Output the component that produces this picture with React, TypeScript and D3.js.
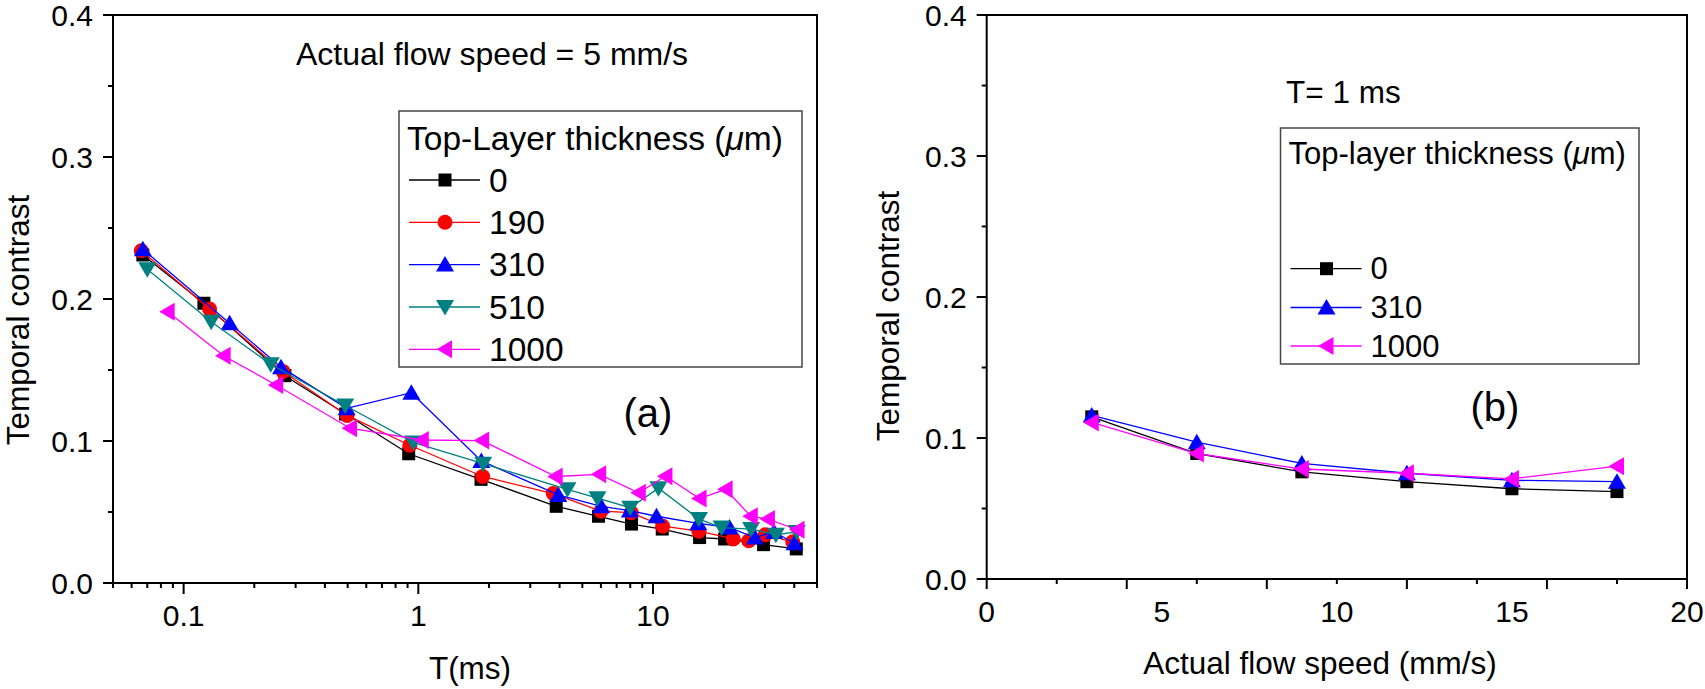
import * as d3 from "d3";

// panel (a): temporal contrast vs exposure time, one array pair per top-layer thickness
const thicknessA = ["0", "190", "310", "510", "1000"];

const t0 = [0.067, 0.122, 0.27, 0.49, 0.91, 1.85, 3.87, 5.86, 8.1, 10.95, 15.8, 20.2, 29.6, 40.8];
const c0 = [0.231, 0.197, 0.146, 0.119, 0.091, 0.073, 0.054, 0.047, 0.0415, 0.038, 0.032, 0.031, 0.027, 0.024];

const t190 = [0.066, 0.129, 0.265, 0.497, 0.92, 1.88, 3.76, 6.0, 8.08, 11.0, 15.7, 22.0, 25.6, 30.1, 39.4];
const c190 = [0.234, 0.193, 0.149, 0.118, 0.097, 0.075, 0.063, 0.0506, 0.0495, 0.04, 0.0365, 0.031, 0.0298, 0.034, 0.029];

const t310 = [0.067, 0.157, 0.26, 0.495, 0.934, 1.855, 3.95, 6.02, 7.97, 10.35, 15.6, 21.2, 27.2, 32.8, 40.1];
const c310 = [0.235, 0.183, 0.152, 0.123, 0.134, 0.086, 0.062, 0.054, 0.051, 0.047, 0.042, 0.039, 0.032, 0.036, 0.028];

const t510 = [0.07, 0.131, 0.235, 0.488, 0.95, 1.89, 4.32, 5.8, 8.0, 10.55, 15.7, 19.6, 26.2, 33.4, 41];
const c510 = [0.221, 0.184, 0.154, 0.125, 0.099, 0.084, 0.066, 0.0597, 0.053, 0.0668, 0.045, 0.039, 0.038, 0.034, 0.036];

const t1000 = [0.0855, 0.148, 0.248, 0.512, 1.035, 1.87, 3.85, 5.9, 8.7, 11.3, 15.8, 20.4, 26.1, 30.9, 41.3];
const c1000 = [0.191, 0.16, 0.1394, 0.109, 0.1007, 0.1003, 0.075, 0.0765, 0.0635, 0.0752, 0.0595, 0.066, 0.047, 0.045, 0.0375];

// panel (b): temporal contrast vs flow speed at T = 1 ms
const thicknessB = ["0", "310", "1000"];
const speeds = [3, 6, 9, 12, 15, 18];
const b0 = [0.115, 0.089, 0.076, 0.069, 0.064, 0.062];
const b310 = [0.116, 0.097, 0.082, 0.075, 0.07, 0.069];
const b1000 = [0.111, 0.089, 0.078, 0.075, 0.071, 0.08];

const yTickLabels = ["0.0", "0.1", "0.2", "0.3", "0.4"];

const font = "'Liberation Sans', Arial, sans-serif";

const styleOf = {
  "0": { color: "#000000", shape: "square" },
  "190": { color: "#ff0000", shape: "circle" },
  "310": { color: "#0000ff", shape: "up" },
  "510": { color: "#008080", shape: "down" },
  "1000": { color: "#ff00ff", shape: "left" },
};

const Marker = ({ shape, x, y, color }) => {
  if (shape === "circle") return <circle cx={x} cy={y} r={7.5} fill={color} />;
  let d = "";
  if (shape === "square") d = "M-6.5,-6.5h13v13h-13Z";
  if (shape === "up") d = "M0,-8.5L9,7L-9,7Z";
  if (shape === "down") d = "M0,8.5L9,-7L-9,-7Z";
  if (shape === "left") d = "M-8.5,0L7,-9L7,9Z";
  return <path d={d} transform={`translate(${x},${y})`} fill={color} />;
};

const Series = ({ xs, ys, name, x, y }) => {
  const st = styleOf[name];
  const pts = xs.map((v, i) => [x(v), y(ys[i])]);
  const line = d3.line();
  return (
    <g>
      <path d={line(pts)} fill="none" stroke={st.color} strokeWidth={1.3} />
      {pts.map((p, i) => (
        <Marker key={i} shape={st.shape} x={p[0]} y={p[1]} color={st.color} />
      ))}
    </g>
  );
};

const Legend = ({ x, y, w, h, titleY, rowY, names, title, size }) => (
  <g fontFamily={font}>
    <rect x={x} y={y} width={w} height={h} fill="white" stroke="#444" strokeWidth={1.5} />
    <text x={x + 8} y={titleY} fontSize={size} dominantBaseline="central">
      {title}
      <tspan fontStyle="italic">μ</tspan>m)
    </text>
    {names.map((n, i) => {
      const st = styleOf[n];
      const ry = rowY[i];
      return (
        <g key={n}>
          <line x1={x + 10} x2={x + 81} y1={ry} y2={ry} stroke={st.color} strokeWidth={1.3} />
          <Marker shape={st.shape} x={x + 46} y={ry} color={st.color} />
          <text x={x + 90} y={ry} fontSize={size} dominantBaseline="central">
            {n}
          </text>
        </g>
      );
    })}
  </g>
);

const YAxis = ({ y, left }) => {
  const minor = y.ticks(8);
  return (
    <g>
      {minor.map((v, i) => (
        <line key={i} x1={left} x2={left - (i % 2 === 0 ? 10 : 5)} y1={y(v)} y2={y(v)} stroke="black" strokeWidth={2} />
      ))}
      {y.ticks(4).map((v, i) => (
        <text key={i} x={left - 20} y={y(v) + 11} textAnchor="end" fontSize={30} fontFamily={font}>
          {yTickLabels[i]}
        </text>
      ))}
    </g>
  );
};

const Frame = ({ l, r, t, b }) => (
  <rect x={l} y={t} width={r - l} height={b - t} fill="none" stroke="black" strokeWidth={2} />
);

export default function App() {
  // panel (a)
  const aL = 113, aR = 817, aT = 15, aB = 583;
  const xA = d3.scaleLog().domain([0.05, 50]).range([aL, aR]);
  const yA = d3.scaleLinear().domain([0, 0.4]).range([aB, aT]);
  const xATicks = xA.ticks();
  const isMajor = (v) => Math.abs(Math.log10(v) - Math.round(Math.log10(v))) < 1e-6;

  // panel (b)
  const bL = 986.7, bR = 1687, bT = 15, bB = 579;
  const xB = d3.scaleLinear().domain([0, 20]).range([bL, bR]);
  const yB = d3.scaleLinear().domain([0, 0.4]).range([bB, bT]);

  const seriesA = [
    [t0, c0],
    [t190, c190],
    [t310, c310],
    [t510, c510],
    [t1000, c1000],
  ];
  const seriesB = [b0, b310, b1000];

  return (
    <div>
      <style>{`body{margin:0}`}</style>
      <svg width={1705} height={689} style={{ display: "block", background: "white" }}>
        {/* panel (a) */}
        <Frame l={aL} r={aR} t={aT} b={aB} />
        {xATicks.map((v, i) => (
          <line key={i} x1={xA(v)} x2={xA(v)} y1={aB} y2={aB + (isMajor(v) ? 11 : 5)} stroke="black" strokeWidth={2} />
        ))}
        {xATicks.filter(isMajor).map((v) => (
          <text key={v} x={xA(v)} y={aB + 43} textAnchor="middle" fontSize={30} fontFamily={font}>
            {d3.format("~g")(v)}
          </text>
        ))}
        <YAxis y={yA} left={aL} />
        <text x={470} y={679} textAnchor="middle" fontSize={31.5} fontFamily={font}>T(ms)</text>
        <text transform={`translate(29,320) rotate(-90)`} textAnchor="middle" fontSize={31.5} fontFamily={font}>
          Temporal contrast
        </text>
        <text x={492} y={65} textAnchor="middle" fontSize={32} fontFamily={font}>
          Actual flow speed = 5 mm/s
        </text>
        <text x={648} y={427} textAnchor="middle" fontSize={40} fontFamily={font}>(a)</text>
        <Legend
          x={399}
          y={111}
          w={403}
          h={256}
          titleY={138}
          rowY={[180, 222.3, 264.6, 307, 349.3]}
          names={thicknessA}
          title="Top-Layer thickness ("
          size={33.5}
        />
        {seriesA.map(([xs, ys], i) => (
          <Series key={thicknessA[i]} xs={xs} ys={ys} name={thicknessA[i]} x={xA} y={yA} />
        ))}

        {/* panel (b) */}
        <Frame l={bL} r={bR} t={bT} b={bB} />
        {xB.ticks(8).map((v, i) => (
          <line key={i} x1={xB(v)} x2={xB(v)} y1={bB} y2={bB + (i % 2 === 0 ? 10 : 5)} stroke="black" strokeWidth={2} />
        ))}
        {xB.ticks(4).map((v) => (
          <text key={v} x={xB(v)} y={bB + 43} textAnchor="middle" fontSize={30} fontFamily={font}>
            {v}
          </text>
        ))}
        <YAxis y={yB} left={bL} />
        <text x={1320} y={674} textAnchor="middle" fontSize={31.5} fontFamily={font}>
          Actual flow speed (mm/s)
        </text>
        <text transform={`translate(899,316) rotate(-90)`} textAnchor="middle" fontSize={31.5} fontFamily={font}>
          Temporal contrast
        </text>
        <text x={1286} y={103} fontSize={31.5} fontFamily={font}>T= 1 ms</text>
        <text x={1495} y={421} textAnchor="middle" fontSize={40} fontFamily={font}>(b)</text>
        <Legend
          x={1280.5}
          y={128}
          w={358.5}
          h={236}
          titleY={153}
          rowY={[268.7, 307.5, 346]}
          names={thicknessB}
          title="Top-layer thickness ("
          size={31}
        />
        {seriesB.map((ys, i) => (
          <Series key={thicknessB[i]} xs={speeds} ys={ys} name={thicknessB[i]} x={xB} y={yB} />
        ))}
      </svg>
    </div>
  );
}
